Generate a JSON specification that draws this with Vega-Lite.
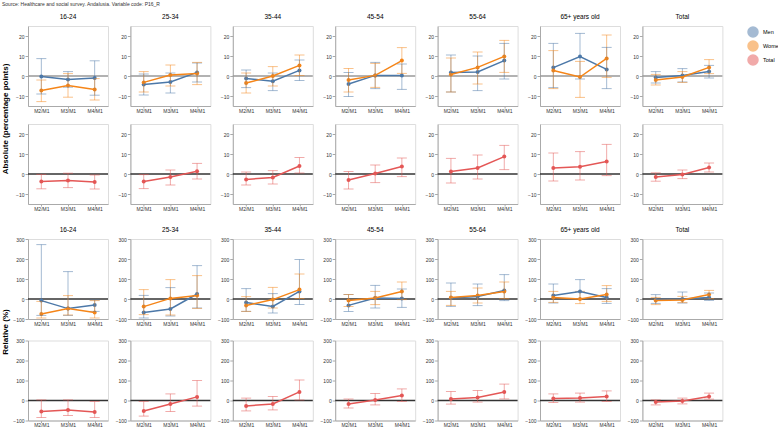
{
  "$schema": "https://vega.github.io/schema/vega-lite/v6.json",
  "title": {"text": "Source: Healthcare and social survey. Andalusia. Variable code: P16_R", "anchor": "start", "fontSize": 5, "fontWeight": "normal", "color": "#333", "offset": 7, "frame": "bounds"},
  "padding": {"top": 1, "left": 1, "right": 0, "bottom": 0},
  "datasets": {
    "d": [
      {"m":"Absolute","p":"sex","a":"16-24","g":"Men","t":"M2/M1","v":-0.2,"lo":-9.0,"hi":8.7},
      {"m":"Absolute","p":"sex","a":"16-24","g":"Men","t":"M3/M1","v":-1.7,"lo":-5.6,"hi":2.2},
      {"m":"Absolute","p":"sex","a":"16-24","g":"Men","t":"M4/M1","v":-1.0,"lo":-9.6,"hi":7.6},
      {"m":"Absolute","p":"sex","a":"16-24","g":"Women","t":"M2/M1","v":-7.2,"lo":-12.8,"hi":-2.0},
      {"m":"Absolute","p":"sex","a":"16-24","g":"Women","t":"M3/M1","v":-4.7,"lo":-10.6,"hi":1.2},
      {"m":"Absolute","p":"sex","a":"16-24","g":"Women","t":"M4/M1","v":-6.7,"lo":-12.0,"hi":-1.3},
      {"m":"Absolute","p":"sex","a":"25-34","g":"Men","t":"M2/M1","v":-4.2,"lo":-9.5,"hi":1.0},
      {"m":"Absolute","p":"sex","a":"25-34","g":"Men","t":"M3/M1","v":-3.0,"lo":-8.5,"hi":1.5},
      {"m":"Absolute","p":"sex","a":"25-34","g":"Men","t":"M4/M1","v":1.8,"lo":-3.0,"hi":6.5},
      {"m":"Absolute","p":"sex","a":"25-34","g":"Women","t":"M2/M1","v":-3.2,"lo":-8.0,"hi":2.2},
      {"m":"Absolute","p":"sex","a":"25-34","g":"Women","t":"M3/M1","v":0.5,"lo":-5.0,"hi":5.5},
      {"m":"Absolute","p":"sex","a":"25-34","g":"Women","t":"M4/M1","v":1.2,"lo":-4.3,"hi":6.8},
      {"m":"Absolute","p":"sex","a":"35-44","g":"Men","t":"M2/M1","v":-1.2,"lo":-5.8,"hi":3.0},
      {"m":"Absolute","p":"sex","a":"35-44","g":"Men","t":"M3/M1","v":-2.6,"lo":-7.3,"hi":1.5},
      {"m":"Absolute","p":"sex","a":"35-44","g":"Men","t":"M4/M1","v":2.8,"lo":-2.3,"hi":8.0},
      {"m":"Absolute","p":"sex","a":"35-44","g":"Women","t":"M2/M1","v":-3.5,"lo":-8.5,"hi":1.5},
      {"m":"Absolute","p":"sex","a":"35-44","g":"Women","t":"M3/M1","v":0.0,"lo":-5.0,"hi":4.7},
      {"m":"Absolute","p":"sex","a":"35-44","g":"Women","t":"M4/M1","v":5.3,"lo":0.3,"hi":10.5},
      {"m":"Absolute","p":"sex","a":"45-54","g":"Men","t":"M2/M1","v":-4.0,"lo":-10.3,"hi":1.8},
      {"m":"Absolute","p":"sex","a":"45-54","g":"Men","t":"M3/M1","v":0.3,"lo":-6.3,"hi":6.8},
      {"m":"Absolute","p":"sex","a":"45-54","g":"Men","t":"M4/M1","v":0.3,"lo":-6.7,"hi":6.0},
      {"m":"Absolute","p":"sex","a":"45-54","g":"Women","t":"M2/M1","v":-2.0,"lo":-8.0,"hi":3.8},
      {"m":"Absolute","p":"sex","a":"45-54","g":"Women","t":"M3/M1","v":0.3,"lo":-5.7,"hi":6.3},
      {"m":"Absolute","p":"sex","a":"45-54","g":"Women","t":"M4/M1","v":7.7,"lo":1.3,"hi":14.2},
      {"m":"Absolute","p":"sex","a":"55-64","g":"Men","t":"M2/M1","v":1.8,"lo":-8.0,"hi":10.5},
      {"m":"Absolute","p":"sex","a":"55-64","g":"Men","t":"M3/M1","v":2.0,"lo":-7.3,"hi":10.0},
      {"m":"Absolute","p":"sex","a":"55-64","g":"Men","t":"M4/M1","v":7.7,"lo":-1.5,"hi":16.3},
      {"m":"Absolute","p":"sex","a":"55-64","g":"Women","t":"M2/M1","v":0.8,"lo":-8.0,"hi":9.0},
      {"m":"Absolute","p":"sex","a":"55-64","g":"Women","t":"M3/M1","v":4.3,"lo":-4.0,"hi":12.0},
      {"m":"Absolute","p":"sex","a":"55-64","g":"Women","t":"M4/M1","v":9.8,"lo":1.8,"hi":17.8},
      {"m":"Absolute","p":"sex","a":"65+ years old","g":"Men","t":"M2/M1","v":4.2,"lo":-5.8,"hi":16.3},
      {"m":"Absolute","p":"sex","a":"65+ years old","g":"Men","t":"M3/M1","v":9.7,"lo":-1.5,"hi":21.3},
      {"m":"Absolute","p":"sex","a":"65+ years old","g":"Men","t":"M4/M1","v":3.3,"lo":-6.3,"hi":14.3},
      {"m":"Absolute","p":"sex","a":"65+ years old","g":"Women","t":"M2/M1","v":2.7,"lo":-6.3,"hi":12.7},
      {"m":"Absolute","p":"sex","a":"65+ years old","g":"Women","t":"M3/M1","v":-0.5,"lo":-10.7,"hi":7.3},
      {"m":"Absolute","p":"sex","a":"65+ years old","g":"Women","t":"M4/M1","v":8.8,"lo":-0.7,"hi":20.5},
      {"m":"Absolute","p":"sex","a":"Total","g":"Men","t":"M2/M1","v":-0.7,"lo":-3.5,"hi":2.2},
      {"m":"Absolute","p":"sex","a":"Total","g":"Men","t":"M3/M1","v":0.3,"lo":-3.0,"hi":3.7},
      {"m":"Absolute","p":"sex","a":"Total","g":"Men","t":"M4/M1","v":2.2,"lo":-1.0,"hi":5.3},
      {"m":"Absolute","p":"sex","a":"Total","g":"Women","t":"M2/M1","v":-2.0,"lo":-4.5,"hi":0.8},
      {"m":"Absolute","p":"sex","a":"Total","g":"Women","t":"M3/M1","v":-0.5,"lo":-3.2,"hi":2.2},
      {"m":"Absolute","p":"sex","a":"Total","g":"Women","t":"M4/M1","v":4.3,"lo":1.2,"hi":8.2},
      {"m":"Absolute","p":"total","a":"16-24","g":"Total","t":"M2/M1","v":-3.8,"lo":-7.4,"hi":-0.2},
      {"m":"Absolute","p":"total","a":"16-24","g":"Total","t":"M3/M1","v":-3.2,"lo":-6.8,"hi":0.4},
      {"m":"Absolute","p":"total","a":"16-24","g":"Total","t":"M4/M1","v":-4.0,"lo":-7.5,"hi":-0.5},
      {"m":"Absolute","p":"total","a":"25-34","g":"Total","t":"M2/M1","v":-3.8,"lo":-7.3,"hi":-0.3},
      {"m":"Absolute","p":"total","a":"25-34","g":"Total","t":"M3/M1","v":-1.5,"lo":-5.5,"hi":2.0},
      {"m":"Absolute","p":"total","a":"25-34","g":"Total","t":"M4/M1","v":1.4,"lo":-2.5,"hi":5.3},
      {"m":"Absolute","p":"total","a":"35-44","g":"Total","t":"M2/M1","v":-2.7,"lo":-5.5,"hi":1.0},
      {"m":"Absolute","p":"total","a":"35-44","g":"Total","t":"M3/M1","v":-1.7,"lo":-5.0,"hi":1.7},
      {"m":"Absolute","p":"total","a":"35-44","g":"Total","t":"M4/M1","v":4.0,"lo":0.5,"hi":8.2},
      {"m":"Absolute","p":"total","a":"45-54","g":"Total","t":"M2/M1","v":-3.0,"lo":-7.5,"hi":1.2},
      {"m":"Absolute","p":"total","a":"45-54","g":"Total","t":"M3/M1","v":0.3,"lo":-4.3,"hi":4.5},
      {"m":"Absolute","p":"total","a":"45-54","g":"Total","t":"M4/M1","v":3.8,"lo":-1.3,"hi":8.0},
      {"m":"Absolute","p":"total","a":"55-64","g":"Total","t":"M2/M1","v":1.3,"lo":-4.5,"hi":7.8},
      {"m":"Absolute","p":"total","a":"55-64","g":"Total","t":"M3/M1","v":3.0,"lo":-2.5,"hi":9.5},
      {"m":"Absolute","p":"total","a":"55-64","g":"Total","t":"M4/M1","v":8.7,"lo":2.2,"hi":14.3},
      {"m":"Absolute","p":"total","a":"65+ years old","g":"Total","t":"M2/M1","v":3.0,"lo":-3.5,"hi":10.5},
      {"m":"Absolute","p":"total","a":"65+ years old","g":"Total","t":"M3/M1","v":3.6,"lo":-3.0,"hi":11.2},
      {"m":"Absolute","p":"total","a":"65+ years old","g":"Total","t":"M4/M1","v":6.2,"lo":-0.8,"hi":14.8},
      {"m":"Absolute","p":"total","a":"Total","g":"Total","t":"M2/M1","v":-1.5,"lo":-3.6,"hi":0.6},
      {"m":"Absolute","p":"total","a":"Total","g":"Total","t":"M3/M1","v":-0.2,"lo":-2.3,"hi":2.0},
      {"m":"Absolute","p":"total","a":"Total","g":"Total","t":"M4/M1","v":3.3,"lo":1.0,"hi":5.5},
      {"m":"Relative","p":"sex","a":"16-24","g":"Men","t":"M2/M1","v":-8,"lo":-82,"hi":272},
      {"m":"Relative","p":"sex","a":"16-24","g":"Men","t":"M3/M1","v":-48,"lo":-82,"hi":137},
      {"m":"Relative","p":"sex","a":"16-24","g":"Men","t":"M4/M1","v":-30,"lo":-62,"hi":-5},
      {"m":"Relative","p":"sex","a":"16-24","g":"Women","t":"M2/M1","v":-75,"lo":-95,"hi":-12},
      {"m":"Relative","p":"sex","a":"16-24","g":"Women","t":"M3/M1","v":-48,"lo":-80,"hi":17},
      {"m":"Relative","p":"sex","a":"16-24","g":"Women","t":"M4/M1","v":-68,"lo":-95,"hi":-8},
      {"m":"Relative","p":"sex","a":"25-34","g":"Men","t":"M2/M1","v":-67,"lo":-95,"hi":18},
      {"m":"Relative","p":"sex","a":"25-34","g":"Men","t":"M3/M1","v":-50,"lo":-85,"hi":57},
      {"m":"Relative","p":"sex","a":"25-34","g":"Men","t":"M4/M1","v":25,"lo":-45,"hi":167},
      {"m":"Relative","p":"sex","a":"25-34","g":"Women","t":"M2/M1","v":-38,"lo":-78,"hi":47},
      {"m":"Relative","p":"sex","a":"25-34","g":"Women","t":"M3/M1","v":3,"lo":-80,"hi":97},
      {"m":"Relative","p":"sex","a":"25-34","g":"Women","t":"M4/M1","v":17,"lo":-47,"hi":117},
      {"m":"Relative","p":"sex","a":"35-44","g":"Men","t":"M2/M1","v":-18,"lo":-62,"hi":52},
      {"m":"Relative","p":"sex","a":"35-44","g":"Men","t":"M3/M1","v":-37,"lo":-70,"hi":27},
      {"m":"Relative","p":"sex","a":"35-44","g":"Men","t":"M4/M1","v":38,"lo":-28,"hi":197},
      {"m":"Relative","p":"sex","a":"35-44","g":"Women","t":"M2/M1","v":-32,"lo":-62,"hi":12},
      {"m":"Relative","p":"sex","a":"35-44","g":"Women","t":"M3/M1","v":-3,"lo":-45,"hi":58},
      {"m":"Relative","p":"sex","a":"35-44","g":"Women","t":"M4/M1","v":47,"lo":2,"hi":125},
      {"m":"Relative","p":"sex","a":"45-54","g":"Men","t":"M2/M1","v":-32,"lo":-62,"hi":22},
      {"m":"Relative","p":"sex","a":"45-54","g":"Men","t":"M3/M1","v":5,"lo":-45,"hi":68},
      {"m":"Relative","p":"sex","a":"45-54","g":"Men","t":"M4/M1","v":3,"lo":-42,"hi":50},
      {"m":"Relative","p":"sex","a":"45-54","g":"Women","t":"M2/M1","v":-8,"lo":-37,"hi":22},
      {"m":"Relative","p":"sex","a":"45-54","g":"Women","t":"M3/M1","v":5,"lo":-28,"hi":38},
      {"m":"Relative","p":"sex","a":"45-54","g":"Women","t":"M4/M1","v":38,"lo":-3,"hi":85},
      {"m":"Relative","p":"sex","a":"55-64","g":"Men","t":"M2/M1","v":5,"lo":-37,"hi":80},
      {"m":"Relative","p":"sex","a":"55-64","g":"Men","t":"M3/M1","v":13,"lo":-33,"hi":75},
      {"m":"Relative","p":"sex","a":"55-64","g":"Men","t":"M4/M1","v":42,"lo":-8,"hi":122},
      {"m":"Relative","p":"sex","a":"55-64","g":"Women","t":"M2/M1","v":8,"lo":-32,"hi":38},
      {"m":"Relative","p":"sex","a":"55-64","g":"Women","t":"M3/M1","v":18,"lo":-20,"hi":55},
      {"m":"Relative","p":"sex","a":"55-64","g":"Women","t":"M4/M1","v":38,"lo":2,"hi":85},
      {"m":"Relative","p":"sex","a":"65+ years old","g":"Men","t":"M2/M1","v":17,"lo":-20,"hi":75},
      {"m":"Relative","p":"sex","a":"65+ years old","g":"Men","t":"M3/M1","v":38,"lo":2,"hi":97},
      {"m":"Relative","p":"sex","a":"65+ years old","g":"Men","t":"M4/M1","v":8,"lo":-22,"hi":52},
      {"m":"Relative","p":"sex","a":"65+ years old","g":"Women","t":"M2/M1","v":8,"lo":-17,"hi":38},
      {"m":"Relative","p":"sex","a":"65+ years old","g":"Women","t":"M3/M1","v":0,"lo":-23,"hi":38},
      {"m":"Relative","p":"sex","a":"65+ years old","g":"Women","t":"M4/M1","v":23,"lo":-12,"hi":67},
      {"m":"Relative","p":"sex","a":"Total","g":"Men","t":"M2/M1","v":-3,"lo":-22,"hi":22},
      {"m":"Relative","p":"sex","a":"Total","g":"Men","t":"M3/M1","v":0,"lo":-20,"hi":35},
      {"m":"Relative","p":"sex","a":"Total","g":"Men","t":"M4/M1","v":8,"lo":-7,"hi":30},
      {"m":"Relative","p":"sex","a":"Total","g":"Women","t":"M2/M1","v":-8,"lo":-28,"hi":8},
      {"m":"Relative","p":"sex","a":"Total","g":"Women","t":"M3/M1","v":-5,"lo":-18,"hi":13},
      {"m":"Relative","p":"sex","a":"Total","g":"Women","t":"M4/M1","v":22,"lo":2,"hi":43},
      {"m":"Relative","p":"total","a":"16-24","g":"Total","t":"M2/M1","v":-55,"lo":-85,"hi":3},
      {"m":"Relative","p":"total","a":"16-24","g":"Total","t":"M3/M1","v":-48,"lo":-75,"hi":3},
      {"m":"Relative","p":"total","a":"16-24","g":"Total","t":"M4/M1","v":-57,"lo":-85,"hi":-5},
      {"m":"Relative","p":"total","a":"25-34","g":"Total","t":"M2/M1","v":-52,"lo":-78,"hi":-5},
      {"m":"Relative","p":"total","a":"25-34","g":"Total","t":"M3/M1","v":-18,"lo":-55,"hi":33},
      {"m":"Relative","p":"total","a":"25-34","g":"Total","t":"M4/M1","v":18,"lo":-28,"hi":100},
      {"m":"Relative","p":"total","a":"35-44","g":"Total","t":"M2/M1","v":-27,"lo":-52,"hi":12},
      {"m":"Relative","p":"total","a":"35-44","g":"Total","t":"M3/M1","v":-17,"lo":-47,"hi":20},
      {"m":"Relative","p":"total","a":"35-44","g":"Total","t":"M4/M1","v":43,"lo":3,"hi":103},
      {"m":"Relative","p":"total","a":"45-54","g":"Total","t":"M2/M1","v":-17,"lo":-38,"hi":7},
      {"m":"Relative","p":"total","a":"45-54","g":"Total","t":"M3/M1","v":3,"lo":-22,"hi":35},
      {"m":"Relative","p":"total","a":"45-54","g":"Total","t":"M4/M1","v":25,"lo":-5,"hi":58},
      {"m":"Relative","p":"total","a":"55-64","g":"Total","t":"M2/M1","v":7,"lo":-18,"hi":45},
      {"m":"Relative","p":"total","a":"55-64","g":"Total","t":"M3/M1","v":15,"lo":-8,"hi":50},
      {"m":"Relative","p":"total","a":"55-64","g":"Total","t":"M4/M1","v":42,"lo":8,"hi":82},
      {"m":"Relative","p":"total","a":"65+ years old","g":"Total","t":"M2/M1","v":10,"lo":-10,"hi":33},
      {"m":"Relative","p":"total","a":"65+ years old","g":"Total","t":"M3/M1","v":13,"lo":-8,"hi":37},
      {"m":"Relative","p":"total","a":"65+ years old","g":"Total","t":"M4/M1","v":20,"lo":-5,"hi":48},
      {"m":"Relative","p":"total","a":"Total","g":"Total","t":"M2/M1","v":-8,"lo":-22,"hi":3},
      {"m":"Relative","p":"total","a":"Total","g":"Total","t":"M3/M1","v":-3,"lo":-17,"hi":12},
      {"m":"Relative","p":"total","a":"Total","g":"Total","t":"M4/M1","v":20,"lo":7,"hi":37}
    ]
  },
  "data": {"name": "d"},
  "vconcat": [
    {
      "transform": [{"filter": "datum.m == 'Absolute'"}],
      "facet": {
        "row": {"field": "p", "type": "nominal", "sort": ["sex", "total"], "title": "Absolute (percentage points)", "header": {"labels": false}},
        "column": {"field": "a", "type": "nominal", "sort": ["16-24", "25-34", "35-44", "45-54", "55-64", "65+ years old", "Total"], "title": null}
      },
      "bounds": "flush",
      "spacing": {"row": 18, "column": 22.4},
      "resolve": {"scale": {"x": "independent", "y": "independent"}},
      "spec": {
        "width": 80,
        "height": 80,
        "encoding": {
          "x": {"field": "t", "type": "ordinal", "scale": {"type": "point", "domain": ["M2/M1", "M3/M1", "M4/M1"]}, "axis": {"title": null, "labelAngle": 0}},
          "y": {"type": "quantitative", "scale": {"domain": [-15, 25], "nice": false}, "axis": {"title": null, "values": [-10, 0, 10, 20]}}
        },
        "layer": [
          {
            "transform": [{"aggregate": [{"op": "count", "as": "n"}], "groupby": ["p", "a"]}],
            "mark": {"type": "rule", "strokeWidth": 1.5},
            "encoding": {"x": null, "y": {"datum": 0}, "color": {"condition": {"test": "datum.p == 'sex'", "value": "#999999"}, "value": "#333333"}}
          },
          {"mark": {"type": "point", "filled": true, "size": 16, "opacity": 1}, "encoding": {"y": {"field": "v"}, "color": {"field": "g", "scale": {"domain": ["Men", "Women", "Total"], "range": ["#4c78a8", "#f58518", "#e45756"]}, "legend": {"title": null, "symbolType": "circle", "symbolSize": 100, "symbolOpacity": 0.7, "labelFontSize": 5.5, "offset": 23, "padding": 0, "rowPadding": -2}}}},
          {"mark": {"type": "rule", "opacity": 0.5}, "encoding": {"y": {"field": "lo"}, "y2": {"field": "hi"}, "color": {"field": "g"}}},
          {"mark": {"type": "tick", "opacity": 0.5, "size": 10, "thickness": 1}, "encoding": {"y": {"field": "lo"}, "color": {"field": "g"}}},
          {"mark": {"type": "tick", "opacity": 0.5, "size": 10, "thickness": 1}, "encoding": {"y": {"field": "hi"}, "color": {"field": "g"}}},
          {"mark": {"type": "line", "strokeWidth": 1.5}, "encoding": {"y": {"field": "v"}, "color": {"field": "g"}}}
        ]
      }
    },
    {
      "transform": [{"filter": "datum.m == 'Relative'"}],
      "facet": {
        "row": {"field": "p", "type": "nominal", "sort": ["sex", "total"], "title": "Relative (%)", "header": {"labels": false}},
        "column": {"field": "a", "type": "nominal", "sort": ["16-24", "25-34", "35-44", "45-54", "55-64", "65+ years old", "Total"], "title": null}
      },
      "bounds": "flush",
      "spacing": {"row": 21.5, "column": 22.4},
      "resolve": {"scale": {"x": "independent", "y": "independent"}},
      "spec": {
        "width": 80,
        "height": 80,
        "encoding": {
          "x": {"field": "t", "type": "ordinal", "scale": {"type": "point", "domain": ["M2/M1", "M3/M1", "M4/M1"]}, "axis": {"title": null, "labelAngle": 0}},
          "y": {"type": "quantitative", "scale": {"domain": [-100, 300], "nice": false}, "axis": {"title": null, "values": [-100, 0, 100, 200, 300]}}
        },
        "layer": [
          {
            "transform": [{"aggregate": [{"op": "count", "as": "n"}], "groupby": ["p", "a"]}],
            "mark": {"type": "rule", "strokeWidth": 1.5, "color": "#333333"},
            "encoding": {"x": null, "y": {"datum": 0}}
          },
          {"mark": {"type": "point", "filled": true, "size": 16, "opacity": 1}, "encoding": {"y": {"field": "v"}, "color": {"field": "g"}}},
          {"mark": {"type": "rule", "opacity": 0.5}, "encoding": {"y": {"field": "lo"}, "y2": {"field": "hi"}, "color": {"field": "g"}}},
          {"mark": {"type": "tick", "opacity": 0.5, "size": 10, "thickness": 1}, "encoding": {"y": {"field": "lo"}, "color": {"field": "g"}}},
          {"mark": {"type": "tick", "opacity": 0.5, "size": 10, "thickness": 1}, "encoding": {"y": {"field": "hi"}, "color": {"field": "g"}}},
          {"mark": {"type": "line", "strokeWidth": 1.5}, "encoding": {"y": {"field": "v"}, "color": {"field": "g"}}}
        ]
      }
    }
  ],
  "spacing": 14,
  "config": {
    "font": "Liberation Sans",
    "view": {"stroke": "#dddddd"},
    "axis": {"labelFontSize": 5, "tickSize": 3, "labelPadding": 1, "labelColor": "#333", "gridColor": "#e8e8e8", "domainColor": "#aaaaaa", "tickColor": "#aaaaaa"},
    "axisX": {"tickSize": 2, "labelPadding": 0},
    "header": {"labelFontSize": 6.5, "labelFontWeight": "normal", "titleFontSize": 8, "titleFontWeight": "bold", "labelPadding": 6, "titlePadding": 8},
    "legend": {"labelFontSize": 5.5}
  }
}
